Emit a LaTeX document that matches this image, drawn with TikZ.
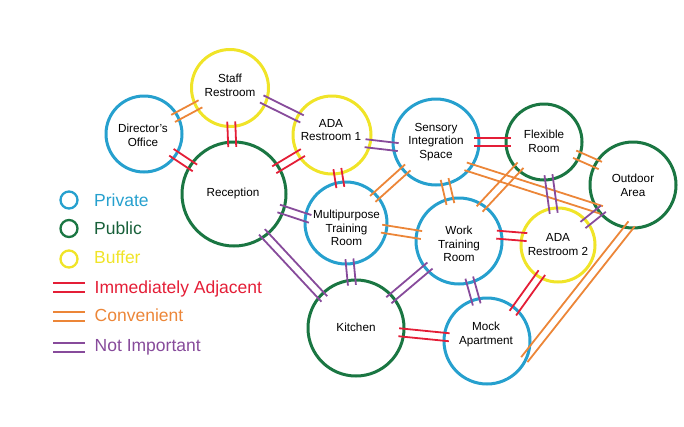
\documentclass[tikz,border=0pt]{standalone}
\usepackage{fontspec}
\setmainfont{Liberation Sans}
\usetikzlibrary{calc}
\definecolor{cblue}{RGB}{38,160,206}
\definecolor{cgreen}{RGB}{26,118,66}
\definecolor{cgreentxt}{RGB}{24,96,58}
\definecolor{cyellow}{RGB}{240,228,40}
\definecolor{cred}{RGB}{228,30,55}
\definecolor{corange}{RGB}{236,134,56}
\definecolor{cpurple}{RGB}{135,75,155}
\newcommand\conn[3]{%
  \path (#2) -- (#3) coordinate[pos=0] (cA) coordinate[pos=1] (cB);
  \path ($(cA)!-5pt!(cB)$) coordinate (cAx) ($(cB)!-5pt!(cA)$) coordinate (cBx);
  \draw[link,draw=#1] ($(cAx)!4pt!90:(cBx)$) -- ($(cBx)!4pt!-90:(cAx)$);
  \draw[link,draw=#1] ($(cAx)!4pt!-90:(cBx)$) -- ($(cBx)!4pt!90:(cAx)$);
}
\begin{document}
\begin{tikzpicture}[x=1pt,y=-1pt,
  room/.style={circle,draw=#1,line width=3pt,inner sep=0pt,outer sep=0pt},
  rtext/.style={align=center,inner sep=0pt,font=\fontsize{11.7}{13.8}\selectfont},
  link/.style={line width=1.8pt},
  legc/.style={circle,draw=#1,line width=2.3pt,minimum size=17pt,inner sep=0pt},
  legt/.style={anchor=base west,inner sep=0pt,text=#1,font=\fontsize{17.5}{20}\selectfont},
  legl/.style={line width=2pt,draw=#1}]
\useasboundingbox (0,0) rectangle (684,426);
% rooms
\node[room=cblue,minimum size=76pt] (DO) at (144,134) {};
\node[room=cyellow,minimum size=77pt] (SR) at (230,88) {};
\node[room=cyellow,minimum size=78pt] (AR1) at (332,135) {};
\node[room=cblue,minimum size=86pt] (SIS) at (436,142) {};
\node[room=cgreen,minimum size=76pt] (FR) at (544,142) {};
\node[room=cgreen,minimum size=86pt] (OA) at (633,185) {};
\node[room=cyellow,minimum size=74pt] (AR2) at (558,245) {};
\node[room=cgreen,minimum size=104pt] (REC) at (234,194) {};
\node[room=cblue,minimum size=82pt] (MTR) at (346,223) {};
\node[room=cblue,minimum size=86pt] (WTR) at (459,241) {};
\node[room=cgreen,minimum size=96pt] (KIT) at (356,328) {};
\node[room=cblue,minimum size=86pt] (MA) at (487,341) {};
% room labels
\node[rtext] (DOt) at (143,135.5) {Director’s\\Office};
\node[rtext] (SRt) at (230,85) {Staff\\Restroom};
\node[rtext] (AR1t) at (331,130) {ADA\\Restroom 1};
\node[rtext] (SISt) at (436,142) {Sensory\\Integration\\Space};
\node[rtext] (FRt) at (544,141.5) {Flexible\\Room};
\node[rtext] (OAt) at (633,185.5) {Outdoor\\Area};
\node[rtext] (AR2t) at (558,244.5) {ADA\\Restroom 2};
\node[rtext] (RECt) at (233,193) {Reception};
\node[rtext] (MTRt) at (346.5,228) {Multipurpose\\Training\\Room};
\node[rtext] (WTRt) at (459,244) {Work\\Training\\Room};
\node[rtext] (KITt) at (356,327.7) {Kitchen};
\node[rtext] (MAt) at (486,334.7) {Mock\\Apartment};
% connectors
\conn{corange}{DO}{SR}
\conn{cred}{DO}{REC}
\conn{cred}{SR}{REC}
\conn{cpurple}{SR.-20}{AR1.152}
\conn{cred}{REC}{AR1}
\conn{cpurple}{AR1.-13}{SIS.186}
\conn{cred}{AR1}{MTR}
\conn{cpurple}{REC.-18}{MTR.172}
\conn{cpurple}{REC.-53}{KIT.137}
\conn{corange}{MTR}{SIS}
\conn{corange}{MTR}{WTR}
\conn{cpurple}{MTR}{KIT}
\conn{cred}{SIS}{FR}
\conn{corange}{SIS}{WTR}
\conn{corange}{SIS.-37}{OA.213}
\conn{cpurple}{FR}{AR2}
\conn{corange}{FR.-22}{OA.150}
\conn{cpurple}{AR2}{OA}
\conn{corange}{OA.-96}{MA.-20}
\conn{cred}{WTR.8}{AR2.167}
\conn{cpurple}{WTR}{MA}
\conn{cpurple}{KIT}{WTR}
\conn{cred}{KIT}{MA}
\conn{cred}{AR2.239}{MA.48}
\conn{corange}{WTR.56}{FR.225}
% legend
\node[legc=cblue] (lgA) at (69,200) {};
\node[legc=cgreen] (lgB) at (69,228.5) {};
\node[legc=cyellow] (lgC) at (69,259) {};
\node[legt=cblue] (ltA) at (94,206) {Private};
\node[legt=cgreentxt] (ltB) at (94,234) {Public};
\node[legt=cyellow] (ltC) at (94,263.3) {Buffer};
\coordinate (la1) at (53,282.5); \coordinate (la2) at (85,282.5);
\coordinate (lb1) at (53,291.5); \coordinate (lb2) at (85,291.5);
\coordinate (lc1) at (53,312); \coordinate (lc2) at (85,312);
\coordinate (ld1) at (53,321); \coordinate (ld2) at (85,321);
\coordinate (le1) at (53,343); \coordinate (le2) at (85,343);
\coordinate (lf1) at (53,352); \coordinate (lf2) at (85,352);
\draw[legl=cred] (la1) -- (la2);
\draw[legl=cred] (lb1) -- (lb2);
\draw[legl=corange] (lc1) -- (lc2);
\draw[legl=corange] (ld1) -- (ld2);
\draw[legl=cpurple] (le1) -- (le2);
\draw[legl=cpurple] (lf1) -- (lf2);
\node[legt=cred] (ltD) at (94.5,293.3) {Immediately Adjacent};
\node[legt=corange] (ltE) at (94.5,321.7) {Convenient};
\node[legt=cpurple] (ltF) at (94.5,351.5) {Not Important};
\end{tikzpicture}
\end{document}
